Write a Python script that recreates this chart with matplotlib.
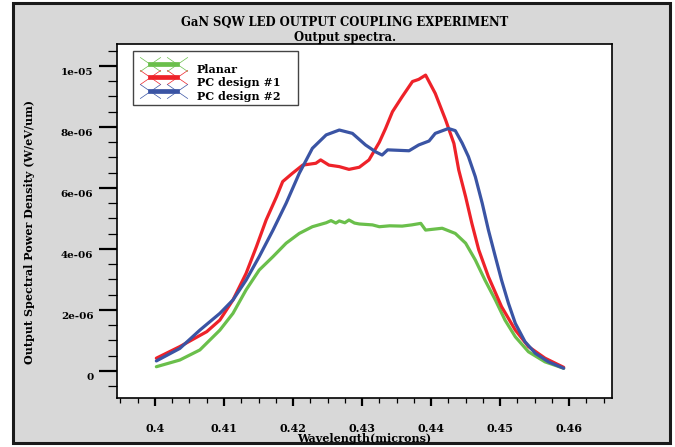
import numpy as np
import matplotlib
matplotlib.use("Agg")
import matplotlib.pyplot as plt
from matplotlib.lines import Line2D
from matplotlib.patches import Rectangle
from matplotlib.path import Path
from matplotlib.transforms import ScaledTranslation

# wavelength in microns, power density in units of 1e-6 W/eV/um
planar_wl = [0.4002, 0.4036, 0.4065, 0.4094, 0.4113, 0.4132, 0.4151, 0.4171, 0.4190, 0.4209,
             0.4228, 0.4248, 0.4255, 0.4262, 0.4267, 0.4275, 0.4281, 0.4289, 0.4296, 0.4315,
             0.4325, 0.4340, 0.4358, 0.4372, 0.4385, 0.4392, 0.4416, 0.4435, 0.4450, 0.4464,
             0.4478, 0.4493, 0.4507, 0.4522, 0.4541, 0.4565, 0.4592]
planar_p = [0.14, 0.36, 0.69, 1.34, 1.89, 2.66, 3.31, 3.75, 4.19, 4.51,
            4.73, 4.86, 4.93, 4.85, 4.92, 4.86, 4.95, 4.85, 4.82, 4.79,
            4.73, 4.76, 4.75, 4.79, 4.84, 4.62, 4.68, 4.51, 4.19, 3.64,
            2.98, 2.33, 1.67, 1.12, 0.63, 0.30, 0.09]

pc1_wl = [0.4002, 0.4036, 0.4075, 0.4094, 0.4113, 0.4132, 0.4147, 0.4161, 0.4176, 0.4185,
          0.4199, 0.4214, 0.4233, 0.4240, 0.4252, 0.4267, 0.4281, 0.4296, 0.4310, 0.4325,
          0.4334, 0.4344, 0.4358, 0.4373, 0.4382, 0.4392, 0.4406, 0.4421, 0.4433, 0.4440,
          0.4450, 0.4459, 0.4469, 0.4483, 0.4502, 0.4522, 0.4541, 0.4565, 0.4592]
pc1_p = [0.42, 0.80, 1.29, 1.67, 2.33, 3.20, 4.08, 4.95, 5.71, 6.21,
         6.48, 6.75, 6.81, 6.92, 6.75, 6.70, 6.61, 6.68, 6.92, 7.50,
         7.95, 8.50, 8.99, 9.49, 9.56, 9.70, 9.10, 8.23, 7.46, 6.59,
         5.71, 4.84, 3.97, 3.09, 2.11, 1.34, 0.80, 0.42, 0.12]

pc2_wl = [0.4002, 0.4036, 0.4065, 0.4094, 0.4113, 0.4132, 0.4151, 0.4171, 0.4190, 0.4209,
          0.4228, 0.4248, 0.4267, 0.4286, 0.4305, 0.4320, 0.4329, 0.4337, 0.4368, 0.4382,
          0.4397, 0.4406, 0.4425, 0.4435, 0.4445, 0.4454, 0.4464, 0.4474, 0.4483, 0.4493,
          0.4502, 0.4512, 0.4522, 0.4536, 0.4551, 0.4570, 0.4592]
pc2_p = [0.33, 0.74, 1.34, 1.89, 2.33, 2.98, 3.75, 4.62, 5.50, 6.48,
         7.30, 7.74, 7.90, 7.79, 7.41, 7.18, 7.08, 7.25, 7.22, 7.41,
         7.54, 7.79, 7.95, 7.88, 7.47, 7.03, 6.37, 5.50, 4.62, 3.75,
         2.98, 2.22, 1.56, 0.96, 0.58, 0.30, 0.09]

names = ["Planar", "PC design #1", "PC design #2"]
colors = ["#6abf4b", "#ee2229", "#3a54a4"]

W, H = 675, 447
fig = plt.figure(figsize=(W / 100, H / 100), dpi=100, facecolor="white")

def px(x, y):
    return x / W, 1 - y / H

# grey panel with dark frame, kept behind the axes
x0, y0 = px(13, 443)
x1, y1 = px(670, 3)
fig.patches.append(Rectangle((x0, y0), x1 - x0, y1 - y0, transform=fig.transFigure,
                             facecolor="#d8d8d8", edgecolor="#1a1a1a", lw=2.2, zorder=-5))

al, ab = px(117, 398)
ar, at = px(612, 44)
ax = fig.add_axes([al, ab, ar - al, at - ab])
ax.set_zorder(2)
ax.set_facecolor("white")

font = dict(family="DejaVu Serif", weight="bold")

for wl, p, c in zip([planar_wl, pc1_wl, pc2_wl], [planar_p, pc1_p, pc2_p], colors):
    ax.plot(wl, np.array(p) * 1e-6, color=c, lw=2.3, solid_capstyle="round")

ax.set_xlim(0.3945, 0.4662)
ax.set_ylim(-0.885e-6, 1.072e-5)

ax.set_xticks([0.40, 0.41, 0.42, 0.43, 0.44, 0.45, 0.46])
ax.set_xticklabels(["0.4", "0.41", "0.42", "0.43", "0.44", "0.45", "0.46"])
ax.set_xticks(np.arange(0.395, 0.4662, 0.0025), minor=True)
ax.set_yticks([0, 2e-6, 4e-6, 6e-6, 8e-6, 1e-5])
ax.set_yticklabels(["0", "2e-06", "4e-06", "6e-06", "8e-06", "1e-05"])
ax.set_yticks(np.arange(-0.5e-6, 1.072e-5, 0.5e-6), minor=True)

ax.tick_params(axis="x", which="major", direction="out", length=6, width=1.6, pad=12, labelsize=8)
ax.tick_params(axis="x", which="minor", direction="out", length=3.6, width=0.9)
ax.tick_params(axis="y", which="major", direction="out", length=13, width=1.6, pad=4, labelsize=7.5)
ax.tick_params(axis="y", which="minor", direction="out", length=6.5, width=0.9)
ax.tick_params(top=False, right=False)
for lab in ax.get_xticklabels() + ax.get_yticklabels():
    lab.set_family("DejaVu Serif")
    lab.set_weight("bold")
for lab in ax.get_yticklabels():
    lab.set_transform(lab.get_transform() + ScaledTranslation(0, -4 / 72, fig.dpi_scale_trans))
for s in ax.spines.values():
    s.set_linewidth(1.2)

fig.text(345 / W, 1 - 22.5 / H, "GaN SQW LED OUTPUT COUPLING EXPERIMENT", ha="center", va="center",
         fontsize=8.4, **font)
fig.text(345 / W, 1 - 37 / H, "Output spectra.", ha="center", va="center", fontsize=8.4, **font)
fig.text(364.5 / W, 1 - 439 / H, "Wavelength(microns)", ha="center", va="center", fontsize=8, **font)
fig.text(29.5 / W, 1 - 232 / H, "Output Spectral Power Density (W/eV/um)", ha="center", va="center",
         rotation=90, fontsize=8, **font)

# legend: wide thin crosses at both ends of a thick bar, framed by a plain box
cross = Path([(-1.45, -1), (1.45, 1), (-1.45, 1), (1.45, -1)],
             [Path.MOVETO, Path.LINETO, Path.MOVETO, Path.LINETO])
handles = [Line2D([0], [0], color=c, lw=3.4, marker=cross, markersize=15, markeredgewidth=0.5)
           for c in colors]
lx0, ly0 = px(133, 105)
lx1, ly1 = px(298, 51)
ax.add_patch(Rectangle((lx0, ly0), lx1 - lx0, ly1 - ly0, transform=fig.transFigure,
                       facecolor="white", edgecolor="#444444", lw=1.0, zorder=4, clip_on=False))
leg = ax.legend(handles, names, loc="upper left", bbox_to_anchor=px(147, 58.5),
                bbox_transform=fig.transFigure, numpoints=2, frameon=False,
                handlelength=3.0, handletextpad=1.5, labelspacing=0.22, borderpad=0,
                borderaxespad=0, prop=dict(family="DejaVu Serif", weight="bold", size=8))
for t in leg.get_texts():
    t.set_transform(t.get_transform() + ScaledTranslation(0, -4 / 72, fig.dpi_scale_trans))

fig.savefig("out.png", dpi=100, facecolor="white")
